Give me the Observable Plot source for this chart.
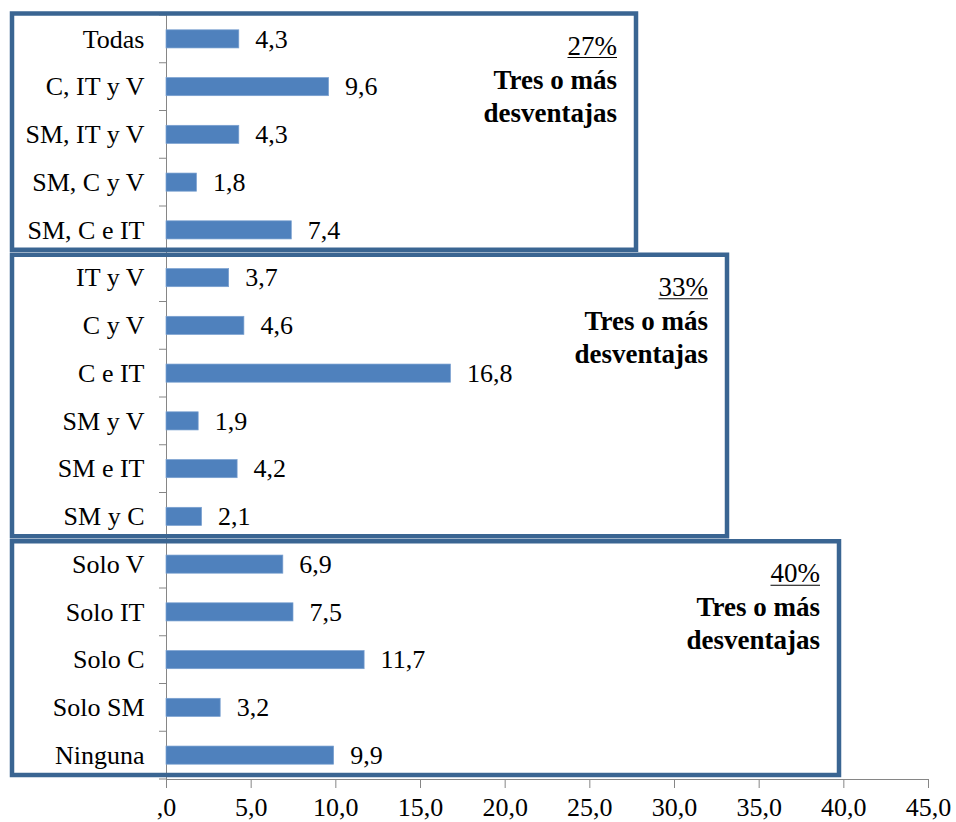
<!DOCTYPE html>
<html><head><meta charset="utf-8">
<script src="https://cdn.jsdelivr.net/npm/d3@7"></script>
<script src="https://cdn.jsdelivr.net/npm/@observablehq/plot@0.6"></script>
<style>
html,body{margin:0;padding:0;background:#fff}
#chart svg text{fill:#000; font-family:"Liberation Serif";}
</style></head><body><div id="chart"></div>
<script>
const categories = ["Todas","C, IT y V","SM, IT y V","SM, C y V","SM, C e IT","IT y V","C y V","C e IT","SM y V","SM e IT","SM y C","Solo V","Solo IT","Solo C","Solo SM","Ninguna"];
const values = [4.3,9.6,4.3,1.8,7.4,3.7,4.6,16.8,1.9,4.2,2.1,6.9,7.5,11.7,3.2,9.9];
const groupPercents = ["27%","33%","40%"];
const groupSizes = [5,6,5];
const groupTitleLines = ["Tres o más","desventajas"];
const xTicks = [0,5,10,15,20,25,30,35,40,45];
const xTickLabels = [",0","5,0","10,0","15,0","20,0","25,0","30,0","35,0","40,0","45,0"];

const data = categories.map((c,i)=>({cat:c, value:values[i]}));
const fmt = v => v.toFixed(1).replace(".", ",");
const FONT = "Liberation Serif";
const FS = 26;

const chart = Plot.plot({
  width: 956, height: 822,
  marginLeft: 166, marginRight: 28, marginTop: 15, marginBottom: 43,
  style: {fontFamily: FONT, fontSize: FS + "px", color: "#868686", background: "#fff"},
  x: {domain: [0,45], ticks: xTicks, tickFormat: d => xTickLabels[xTicks.indexOf(d)], tickSize: 9, tickPadding: 9, label: null, line: true},
  y: {domain: categories, paddingInner: 0.62, paddingOuter: 0.31, round: false, tickSize: 0, tickPadding: 22, label: null, line: true},
  marks: [
    Plot.barX(data, {x: "value", y: "cat", fill: "#4F81BD", stroke: "#7aa0d0", strokeWidth: 0.7}),
    Plot.text(data, {x: "value", y: "cat", text: d => fmt(d.value), textAnchor: "start", dx: 16, fill: "#000", fontSize: FS, fontFamily: FONT})
  ]
});
document.getElementById("chart").appendChild(chart);

// overlay: band-boundary ticks and group boxes, positioned via Plot's scales
const svg = d3.select(chart);
const ys = chart.scale("y");
const bw = ys.bandwidth;
const step = ys.step || bw / (1 - 0.62);
const x0 = chart.scale("x").apply(0);
const bandTop = c => ys.apply(c) - (step - bw) / 2;

const tickG = svg.append("g");
for (let i = 0; i <= categories.length; i++) {
  const y = bandTop(categories[0]) + i * step;
  tickG.append("line").attr("x1", x0 - 7).attr("x2", x0).attr("y1", y).attr("y2", y)
    .attr("stroke", "#868686").attr("stroke-width", 1);
}

const boxLeft = 12;
const boxRightPx = [636, 727, 839];
const boxG = svg.append("g");
let start = 0;
groupSizes.forEach((n, g) => {
  const top = bandTop(categories[start]) + (g === 0 ? -1.5 : 1);
  const bottom = bandTop(categories[start]) + n * step - 4;
  const right = boxRightPx[g];
  boxG.append("rect").attr("x", boxLeft).attr("y", top).attr("width", right - boxLeft).attr("height", bottom - top)
    .attr("fill", "none").attr("stroke", "#3A6592").attr("stroke-width", 4.5);
  const tx = right - 19;
  const pct = boxG.append("text").attr("x", tx).attr("y", top + 41).attr("text-anchor", "end")
    .attr("font-family", FONT).attr("font-size", 27).text(groupPercents[g]);
  const w = pct.node().getComputedTextLength();
  boxG.append("line").attr("x1", tx - w).attr("x2", tx).attr("y1", top + 44).attr("y2", top + 44)
    .attr("stroke", "#000").attr("stroke-width", 1);
  groupTitleLines.forEach((t, k) => {
    boxG.append("text").attr("x", tx).attr("y", top + 75 + k * 33).attr("text-anchor", "end")
      .attr("font-family", FONT).attr("font-size", 27).attr("font-weight", "bold").text(t);
  });
  start += n;
});
</script></body></html>
